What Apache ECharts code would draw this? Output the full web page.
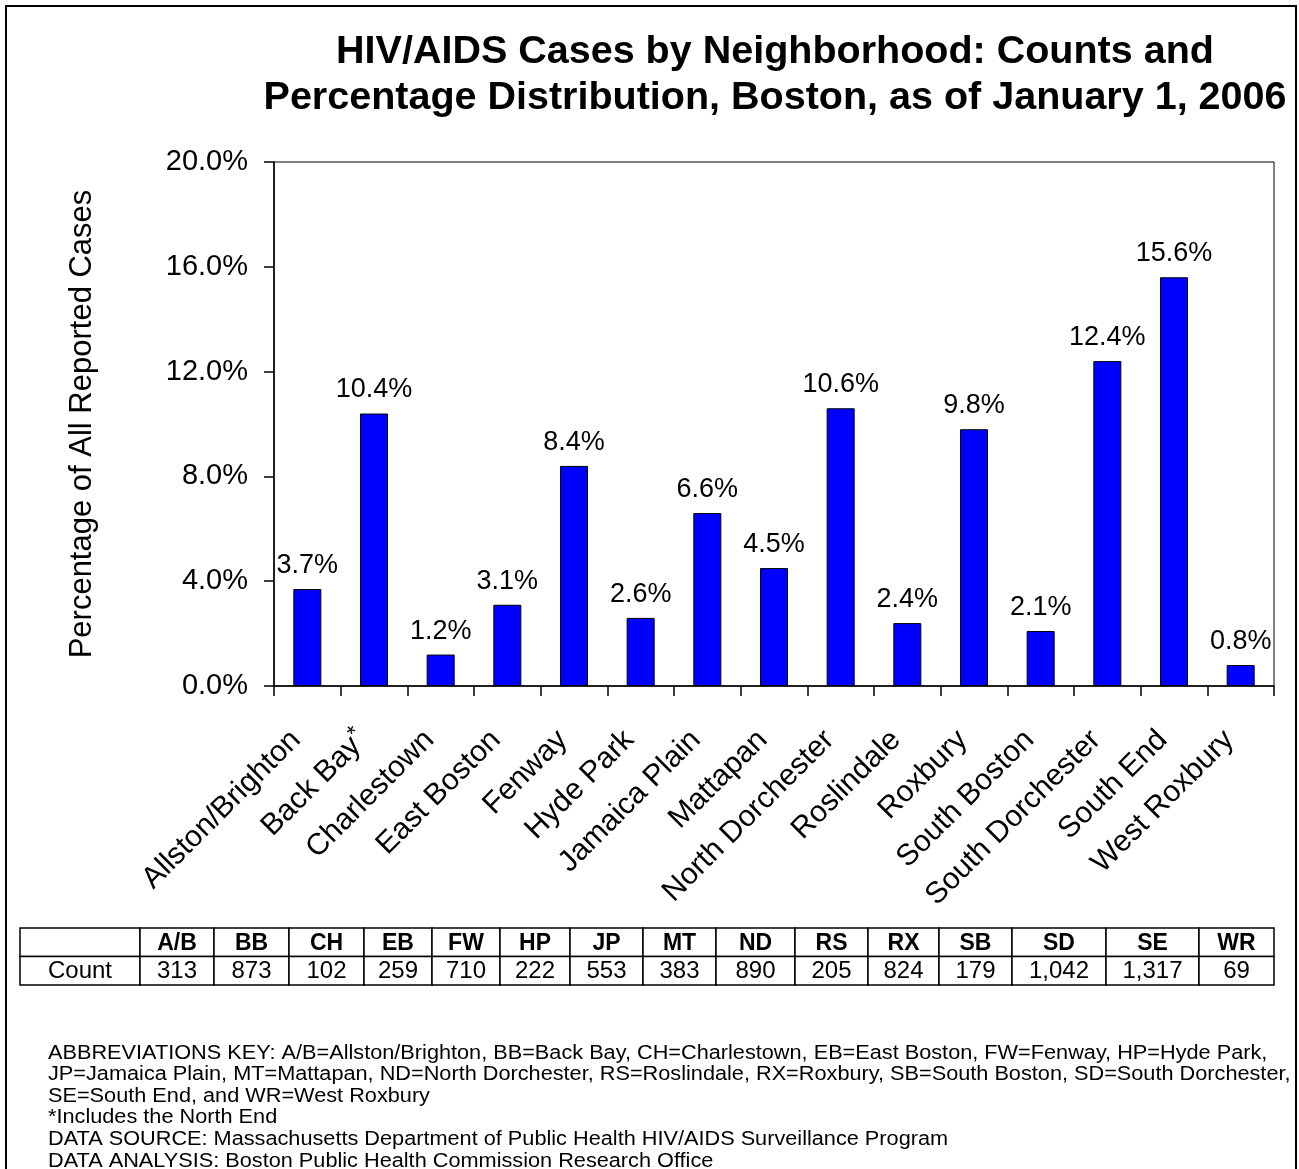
<!DOCTYPE html>
<html><head><meta charset="utf-8">
<script src="https://cdn.jsdelivr.net/npm/echarts@6/dist/echarts.min.js"></script>
<style>html,body{margin:0;padding:0;background:#fff}#c{width:1299px;height:1169px}</style>
</head><body><div id="c"></div><script>
// ---- data ----
const neighborhoods = ['Allston/Brighton','Back Bay*','Charlestown','East Boston','Fenway','Hyde Park','Jamaica Plain','Mattapan','North Dorchester','Roslindale','Roxbury','South Boston','South Dorchester','South End','West Roxbury'];
const percentages = [3.7, 10.4, 1.2, 3.1, 8.4, 2.6, 6.6, 4.5, 10.6, 2.4, 9.8, 2.1, 12.4, 15.6, 0.8];
const abbreviations = ['A/B','BB','CH','EB','FW','HP','JP','MT','ND','RS','RX','SB','SD','SE','WR'];
const counts = ['313','873','102','259','710','222','553','383','890','205','824','179','1,042','1,317','69'];
const rowLabel = 'Count';
const titleLines = ['HIV/AIDS Cases by Neighborhood: Counts and','Percentage Distribution, Boston, as of January 1, 2006'];
const yAxisTitle = 'Percentage of All Reported Cases';
const footnotes = [
  'ABBREVIATIONS KEY: A/B=Allston/Brighton, BB=Back Bay, CH=Charlestown, EB=East Boston, FW=Fenway, HP=Hyde Park,',
  'JP=Jamaica Plain, MT=Mattapan, ND=North Dorchester, RS=Roslindale, RX=Roxbury, SB=South Boston, SD=South Dorchester,',
  'SE=South End, and WR=West Roxbury',
  '*Includes the North End',
  'DATA SOURCE: Massachusetts Department of Public Health HIV/AIDS Surveillance Program',
  'DATA ANALYSIS: Boston Public Health Commission Research Office'
];

// ---- layout ----
const FONT = 'Arial, "Liberation Sans", sans-serif';
const tableLeft = 20, firstColW = 120, tableTop = 928, rowH = 28.5;
const colWidths = [74,75,75,68,68,70,73,73,79,73,71,73,94,93,75];

const graphics = [];
graphics.push({type:'rect', shape:{x:6,y:6,width:1290,height:1200}, style:{fill:'none', stroke:'#000', lineWidth:2}, z:0});

// table
let x = tableLeft;
const cols = [{w:firstColW, head:'', val:rowLabel}];
abbreviations.forEach((a,i)=>cols.push({w:colWidths[i], head:a, val:counts[i]}));
cols.forEach((c)=>{
  for (let r=0;r<2;r++){
    graphics.push({type:'rect', shape:{x:x, y:tableTop + r*rowH, width:c.w, height:rowH},
      style:{fill:'#fff', stroke:'#000', lineWidth:1.5}, z:1});
  }
  if (c.head) graphics.push({type:'text', x:x + c.w/2, y:tableTop + rowH/2 + 1,
      style:{text:c.head, font:'bold 23px ' + FONT, fill:'#000', textAlign:'center', textVerticalAlign:'middle'}, z:2});
  graphics.push({type:'text', x:x + c.w/2, y:tableTop + rowH*1.5 + 1,
      style:{text:c.val, font:'24px ' + FONT, fill:'#000', textAlign:'center', textVerticalAlign:'middle'}, z:2});
  x += c.w;
});

// footnotes
footnotes.forEach((t,i)=>{
  graphics.push({type:'text', x:48, y:1053 + i*21.6, scaleX:1.085,
    style:{text:t, font:'20px ' + FONT, fill:'#000', textAlign:'left', textVerticalAlign:'middle'}, z:2});
});

const chart = echarts.init(document.getElementById('c'), null, {renderer:'canvas'});
chart.setOption({
  backgroundColor:'#fff',
  animation:false,
  title:{
    text: titleLines.join('\n'),
    left: 770, top: 24, textAlign:'center',
    textStyle:{fontFamily:FONT, fontSize:39.5, fontWeight:'bold', color:'#000', lineHeight:46}
  },
  grid:{left:274, right:25, top:162, bottom:483, show:true, borderColor:'#000', borderWidth:1, backgroundColor:'transparent'},
  xAxis:{
    type:'category', data: neighborhoods,
    axisLine:{lineStyle:{color:'#000', width:1.5}},
    axisTick:{show:true, length:10, lineStyle:{color:'#000', width:1.5}},
    axisLabel:{interval:0, rotate:45, margin:38, padding:[0,16,0,0], color:'#000', fontFamily:FONT, fontSize:30,
      formatter: v => v.endsWith('*') ? v.slice(0,-1) + '{sup|*}' : v,
      rich:{sup:{fontFamily:FONT, fontSize:23, color:'#000', verticalAlign:'top', padding:[0,0,14,0]}}}
  },
  yAxis:{
    type:'value', min:0, max:20, interval:4,
    name: yAxisTitle, nameLocation:'middle', nameGap:176, nameRotate:90,
    nameTextStyle:{fontFamily:FONT, fontSize:31, color:'#000'},
    axisLine:{show:true, lineStyle:{color:'#000', width:1.5}},
    axisTick:{show:true, length:10, lineStyle:{color:'#000', width:1.5}},
    splitLine:{show:false},
    axisLabel:{margin:26, color:'#000', fontFamily:FONT, fontSize:29, formatter: v => v.toFixed(1) + '%'}
  },
  series:[{
    type:'bar', data: percentages, barWidth:28,
    itemStyle:{color:'#0000FF', borderColor:'#000', borderWidth:1},
    label:{show:true, position:'top', distance:10, color:'#000', fontFamily:FONT, fontSize:27,
      formatter: p => p.value.toFixed(1) + '%'}
  }],
  graphic: graphics
});
</script></body></html>
